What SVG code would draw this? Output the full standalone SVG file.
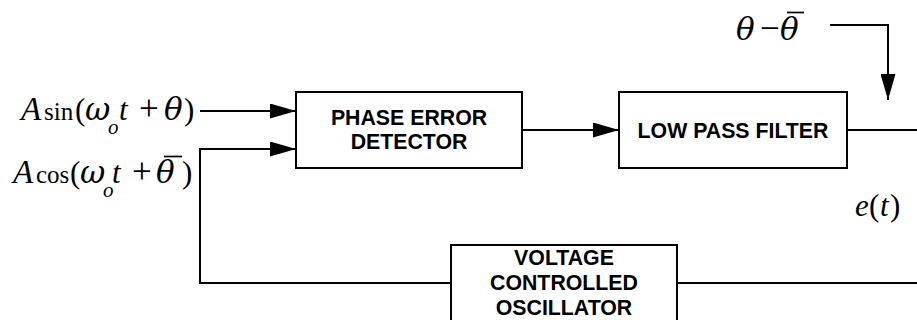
<svg xmlns="http://www.w3.org/2000/svg" width="917" height="320" viewBox="0 0 917 320">
<style>
.box{fill:#fff;stroke:#000;stroke-width:2}
.lbl{font-family:"Liberation Sans",Arial,sans-serif;font-weight:bold;font-size:21.3px;text-anchor:middle;fill:#000}
.wire{fill:none;stroke:#000;stroke-width:2}
.bar{fill:none;stroke:#000;stroke-width:1.7}
.m{font-family:"Liberation Serif","Times New Roman",serif;font-size:31px;fill:#000}
.i{font-style:italic}
.cap{font-size:33px;font-style:italic}
.fn{font-size:25px}
.gr{font-family:"DejaVu Serif","Liberation Serif",serif;font-style:italic;font-size:31px}
.op{font-size:35px}
.sub{font-size:21px;font-style:italic}
</style>
<defs>
<marker id="arr" markerUnits="userSpaceOnUse" markerWidth="26" markerHeight="15" refX="26" refY="7.5" orient="auto">
<path d="M0,0 L26,7.5 L0,15 Z" fill="#000"/>
</marker>
</defs>
<g id="connectors">
<path class="wire" d="M200,111 H296" marker-end="url(#arr)"/>
<path class="wire" d="M451,283 H200 V149 H296" marker-end="url(#arr)"/>
<path class="wire" d="M522,130 H619" marker-end="url(#arr)"/>
<path class="wire" d="M847,130 H917"/>
<path class="wire" d="M677,283 H917"/>
<path class="wire" d="M830,25 H888 V100" marker-end="url(#arr)"/>
</g>
<g id="phase-error-detector">
<rect class="box" x="296" y="92" width="226" height="76"/>
<text class="lbl" x="409" y="125">PHASE ERROR</text>
<text class="lbl" x="409" y="149">DETECTOR</text>
</g>
<g id="low-pass-filter">
<rect class="box" x="619" y="92" width="228" height="76"/>
<text class="lbl" x="733" y="137.5">LOW PASS FILTER</text>
</g>
<g id="vco">
<rect class="box" x="451" y="245" width="226" height="90"/>
<text class="lbl" x="564" y="265">VOLTAGE</text>
<text class="lbl" x="564" y="290">CONTROLLED</text>
<text class="lbl" x="564" y="315">OSCILLATOR</text>
</g>
<g id="input-sin">
<text class="m" y="120"><tspan class="cap" x="21">A</tspan><tspan class="fn" x="44">sin</tspan><tspan x="75">(</tspan><tspan class="gr" x="85">ω</tspan><tspan class="sub" x="108" y="134">o</tspan><tspan class="i" x="119" y="120">t</tspan><tspan class="op" x="139">+</tspan><tspan class="gr" x="164">θ</tspan><tspan x="184">)</tspan></text>
</g>
<g id="input-cos">
<text class="m" y="183"><tspan class="cap" x="13">A</tspan><tspan class="fn" x="36">cos</tspan><tspan x="70">(</tspan><tspan class="gr" x="80">ω</tspan><tspan class="sub" x="103" y="197">o</tspan><tspan class="i" x="112" y="183">t</tspan><tspan class="op" x="132">+</tspan><tspan class="gr" x="156">θ</tspan><tspan x="182">)</tspan></text>
<path class="bar" d="M164,156.5 H182"/>
</g>
<g id="phase-diff">
<text class="m" y="40"><tspan class="gr" x="736">θ</tspan><tspan class="op" x="760">−</tspan><tspan class="gr" x="780">θ</tspan></text>
<path class="bar" d="M787,12.5 H804"/>
</g>
<g id="error-signal">
<text class="m" y="216"><tspan class="i" x="855">e</tspan><tspan x="869">(</tspan><tspan class="i" x="880">t</tspan><tspan x="890">)</tspan></text>
</g>
</svg>
